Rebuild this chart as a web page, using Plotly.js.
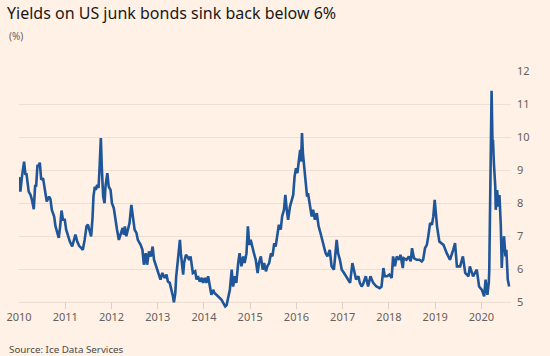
<!DOCTYPE html>
<html>
<head>
<meta charset="utf-8">
<script src="https://cdn.plot.ly/plotly-3.0.1.min.js"></script>
<style>html,body{margin:0;padding:0;background:#fff1e5;}#chart{width:550px;height:356px;}</style>
</head>
<body>
<div id="chart"></div>
<script>
const dates = [
2010.00,2010.03,2010.06,2010.11,2010.14,2010.16,2010.21,2010.25,2010.28,2010.32,2010.35,2010.37,2010.40,2010.42,2010.45,2010.48,2010.52,2010.57,2010.60,2010.65,2010.68,2010.71,2010.76,2010.79,2010.83,2010.86,2010.89,2010.92,2010.95,2010.99,
2011.02,2011.06,2011.10,2011.15,2011.18,2011.22,2011.26,2011.30,2011.35,2011.38,2011.42,2011.46,2011.49,2011.53,2011.56,2011.59,2011.61,2011.64,2011.66,2011.69,2011.72,2011.74,2011.77,2011.79,2011.82,2011.85,2011.87,2011.91,2011.94,2011.98,
2012.01,2012.05,2012.08,2012.12,2012.16,2012.20,2012.24,2012.27,2012.29,2012.32,2012.36,2012.39,2012.43,2012.47,2012.50,2012.54,2012.57,2012.63,2012.67,2012.70,2012.74,2012.77,2012.81,2012.85,2012.89,2012.92,2012.97,
2013.02,2013.06,2013.10,2013.15,2013.19,2013.22,2013.26,2013.30,2013.33,2013.35,2013.38,2013.40,2013.43,2013.45,2013.48,2013.50,2013.52,2013.55,2013.57,2013.61,2013.64,2013.68,2013.71,2013.73,2013.76,2013.81,2013.84,2013.87,2013.91,2013.95,2013.98,
2014.02,2014.05,2014.09,2014.13,2014.16,2014.20,2014.23,2014.27,2014.31,2014.34,2014.38,2014.41,2014.46,2014.49,2014.52,2014.56,2014.60,2014.63,2014.67,2014.70,2014.74,2014.77,2014.81,2014.85,2014.88,2014.92,2014.95,2014.98,
2015.01,2015.05,2015.08,2015.12,2015.16,2015.19,2015.23,2015.27,2015.30,2015.34,2015.37,2015.41,2015.45,2015.48,2015.52,2015.55,2015.59,2015.62,2015.66,2015.69,2015.73,2015.76,2015.79,2015.82,2015.86,2015.89,2015.93,2015.96,2015.99,
2016.02,2016.05,2016.08,2016.10,2016.12,2016.14,2016.17,2016.20,2016.23,2016.25,2016.29,2016.33,2016.36,2016.40,2016.44,2016.48,2016.52,2016.56,2016.59,2016.63,2016.67,2016.72,2016.76,2016.81,2016.87,2016.90,2016.94,2016.98,
2017.03,2017.08,2017.12,2017.16,2017.21,2017.24,2017.29,2017.34,2017.37,2017.41,2017.44,2017.50,2017.55,2017.60,2017.66,2017.73,2017.80,2017.84,2017.88,2017.91,2017.96,
2018.01,2018.06,2018.09,2018.13,2018.17,2018.22,2018.25,2018.30,2018.32,2018.38,2018.43,2018.47,2018.50,2018.54,2018.60,2018.66,2018.71,2018.74,2018.78,2018.82,2018.85,2018.89,2018.93,2018.96,2018.99,
2019.04,2019.09,2019.18,2019.25,2019.32,2019.39,2019.43,2019.47,2019.54,2019.60,2019.65,2019.72,2019.75,2019.82,2019.90,2019.95,
2020.01,2020.06,2020.09,2020.13,2020.16,2020.17,2020.18,2020.20,2020.22,2020.24,2020.25,2020.27,2020.30,2020.31,2020.34,2020.37,2020.39,2020.42,2020.44,2020.46,2020.49,2020.52,2020.54,2020.57,2020.60
];
const yields = [
8.79,8.35,8.76,9.26,8.86,8.91,8.35,8.25,8.10,7.82,8.56,8.50,9.16,9.11,9.23,8.71,8.76,8.25,8.05,8.20,8.12,7.80,7.60,7.30,7.10,6.95,7.30,7.78,7.50,7.50,
7.20,7.00,6.84,6.69,6.84,7.05,6.84,6.71,6.64,6.59,6.89,7.30,7.35,7.10,7.00,7.55,8.20,8.50,8.40,8.56,8.46,9.01,9.97,9.11,8.20,8.00,8.50,8.91,8.50,8.40,
8.00,7.85,7.50,7.20,6.89,7.05,7.25,7.05,7.30,7.00,7.20,7.40,7.95,7.50,7.20,7.10,6.89,6.74,6.59,6.14,6.49,6.14,6.54,6.39,6.69,6.29,6.09,
5.89,5.69,5.89,5.74,5.84,5.63,5.59,5.38,5.18,5.00,5.28,5.79,6.19,6.49,6.89,6.49,6.19,5.84,6.19,6.44,6.39,6.29,6.39,6.19,5.89,5.94,5.69,5.79,5.63,5.74,5.59,
5.74,5.59,5.79,5.48,5.23,5.38,5.28,5.23,5.18,5.13,5.08,5.00,4.88,4.92,5.13,5.38,5.99,5.48,5.79,5.59,6.19,6.49,6.09,6.39,6.19,6.49,7.30,6.74,
6.89,6.59,6.49,6.29,5.89,6.19,6.39,5.99,6.19,5.94,6.09,6.19,6.49,6.39,6.79,6.69,7.10,7.35,7.20,7.60,7.80,8.25,7.80,7.50,7.90,8.05,8.25,8.81,9.06,
8.91,9.36,9.61,9.26,10.12,9.51,9.01,8.50,8.20,8.30,7.90,7.60,7.80,7.50,7.70,7.30,7.10,6.89,6.69,6.49,6.39,6.59,6.09,5.99,6.89,6.49,6.29,5.99,
5.89,5.79,5.69,5.59,6.19,5.99,5.69,5.79,5.59,5.48,5.55,5.79,5.48,5.79,5.59,5.48,5.43,5.48,6.04,5.79,5.79,
5.84,5.74,6.39,6.09,6.39,6.29,6.44,6.04,6.34,6.29,6.39,6.24,6.64,6.34,6.29,6.29,6.24,6.29,6.64,6.74,6.99,7.40,7.35,7.60,8.10,
7.30,6.84,6.74,6.49,6.29,6.59,6.79,6.09,6.09,6.39,5.89,5.79,6.09,5.79,5.99,5.48,
5.38,5.18,5.69,5.23,5.60,5.99,7.40,9.71,11.40,9.82,9.92,9.21,8.50,7.80,8.40,7.90,8.25,7.30,6.04,6.69,7.00,6.39,6.59,5.69,5.48
];
const yearTicks = [2010,2011,2012,2013,2014,2015,2016,2017,2018,2019,2020];
const yearLabels = ['2010','2011','2012','2013','2014','2015','2016','2017','2018','2019','2020'];
const yTicks = [5,6,7,8,9,10,11,12];

const font = "'Noto Sans', 'Open Sans', sans-serif";
const trace = {
  x: dates, y: yields, type: 'scatter', mode: 'lines',
  line: {color: '#1f5599', width: 2.6}, hoverinfo: 'skip'
};
const layout = {
  width: 550, height: 356,
  paper_bgcolor: '#fff1e5', plot_bgcolor: '#fff1e5',
  margin: {l: 19, r: 39, t: 71, b: 47},
  showlegend: false,
  title: {text: 'Yields on US junk bonds sink back below 6%', font: {family: font, size: 16, color: '#1a1817'},
          xref: 'container', x: 7/550, xanchor: 'left', yref: 'container', y: 1 - 13/356, yanchor: 'middle'},
  xaxis: {range: [2010, 2020.64], tickvals: yearTicks, ticktext: yearLabels,
          ticks: 'inside', ticklen: 7, tickwidth: 1, tickcolor: '#ddd0c4',
          showgrid: false, zeroline: false, showline: false,
          tickfont: {family: font, size: 11, color: '#66605c'}},
  yaxis: {range: [4.8, 12], side: 'right', tickvals: yTicks, ticks: '', ticklabelstandoff: 5,
          showgrid: true, gridcolor: '#ece0d4', gridwidth: 1, zeroline: false, showline: false,
          tickfont: {family: font, size: 11, color: '#66605c'}},
  shapes: [{type: 'line', xref: 'x', yref: 'y', x0: 2010, x1: 2020.64, y0: 5, y1: 5,
            line: {color: '#ddd0c4', width: 1}, layer: 'below'}],
  annotations: [
    {text: '(%)', xref: 'paper', yref: 'paper', x: -12/492, y: 1 + (71 - 36)/238, xanchor: 'left', yanchor: 'middle',
     showarrow: false, font: {family: font, size: 10, color: '#66605c'}},
    {text: 'Source: Ice Data Services', xref: 'paper', yref: 'paper', x: -12/492, y: -(349 - 309)/238, xanchor: 'left', yanchor: 'middle',
     showarrow: false, font: {family: font, size: 9.8, color: '#4d4845'}}
  ]
};
Plotly.newPlot('chart', [trace], layout, {displayModeBar: false, staticPlot: true});
</script>
</body>
</html>
